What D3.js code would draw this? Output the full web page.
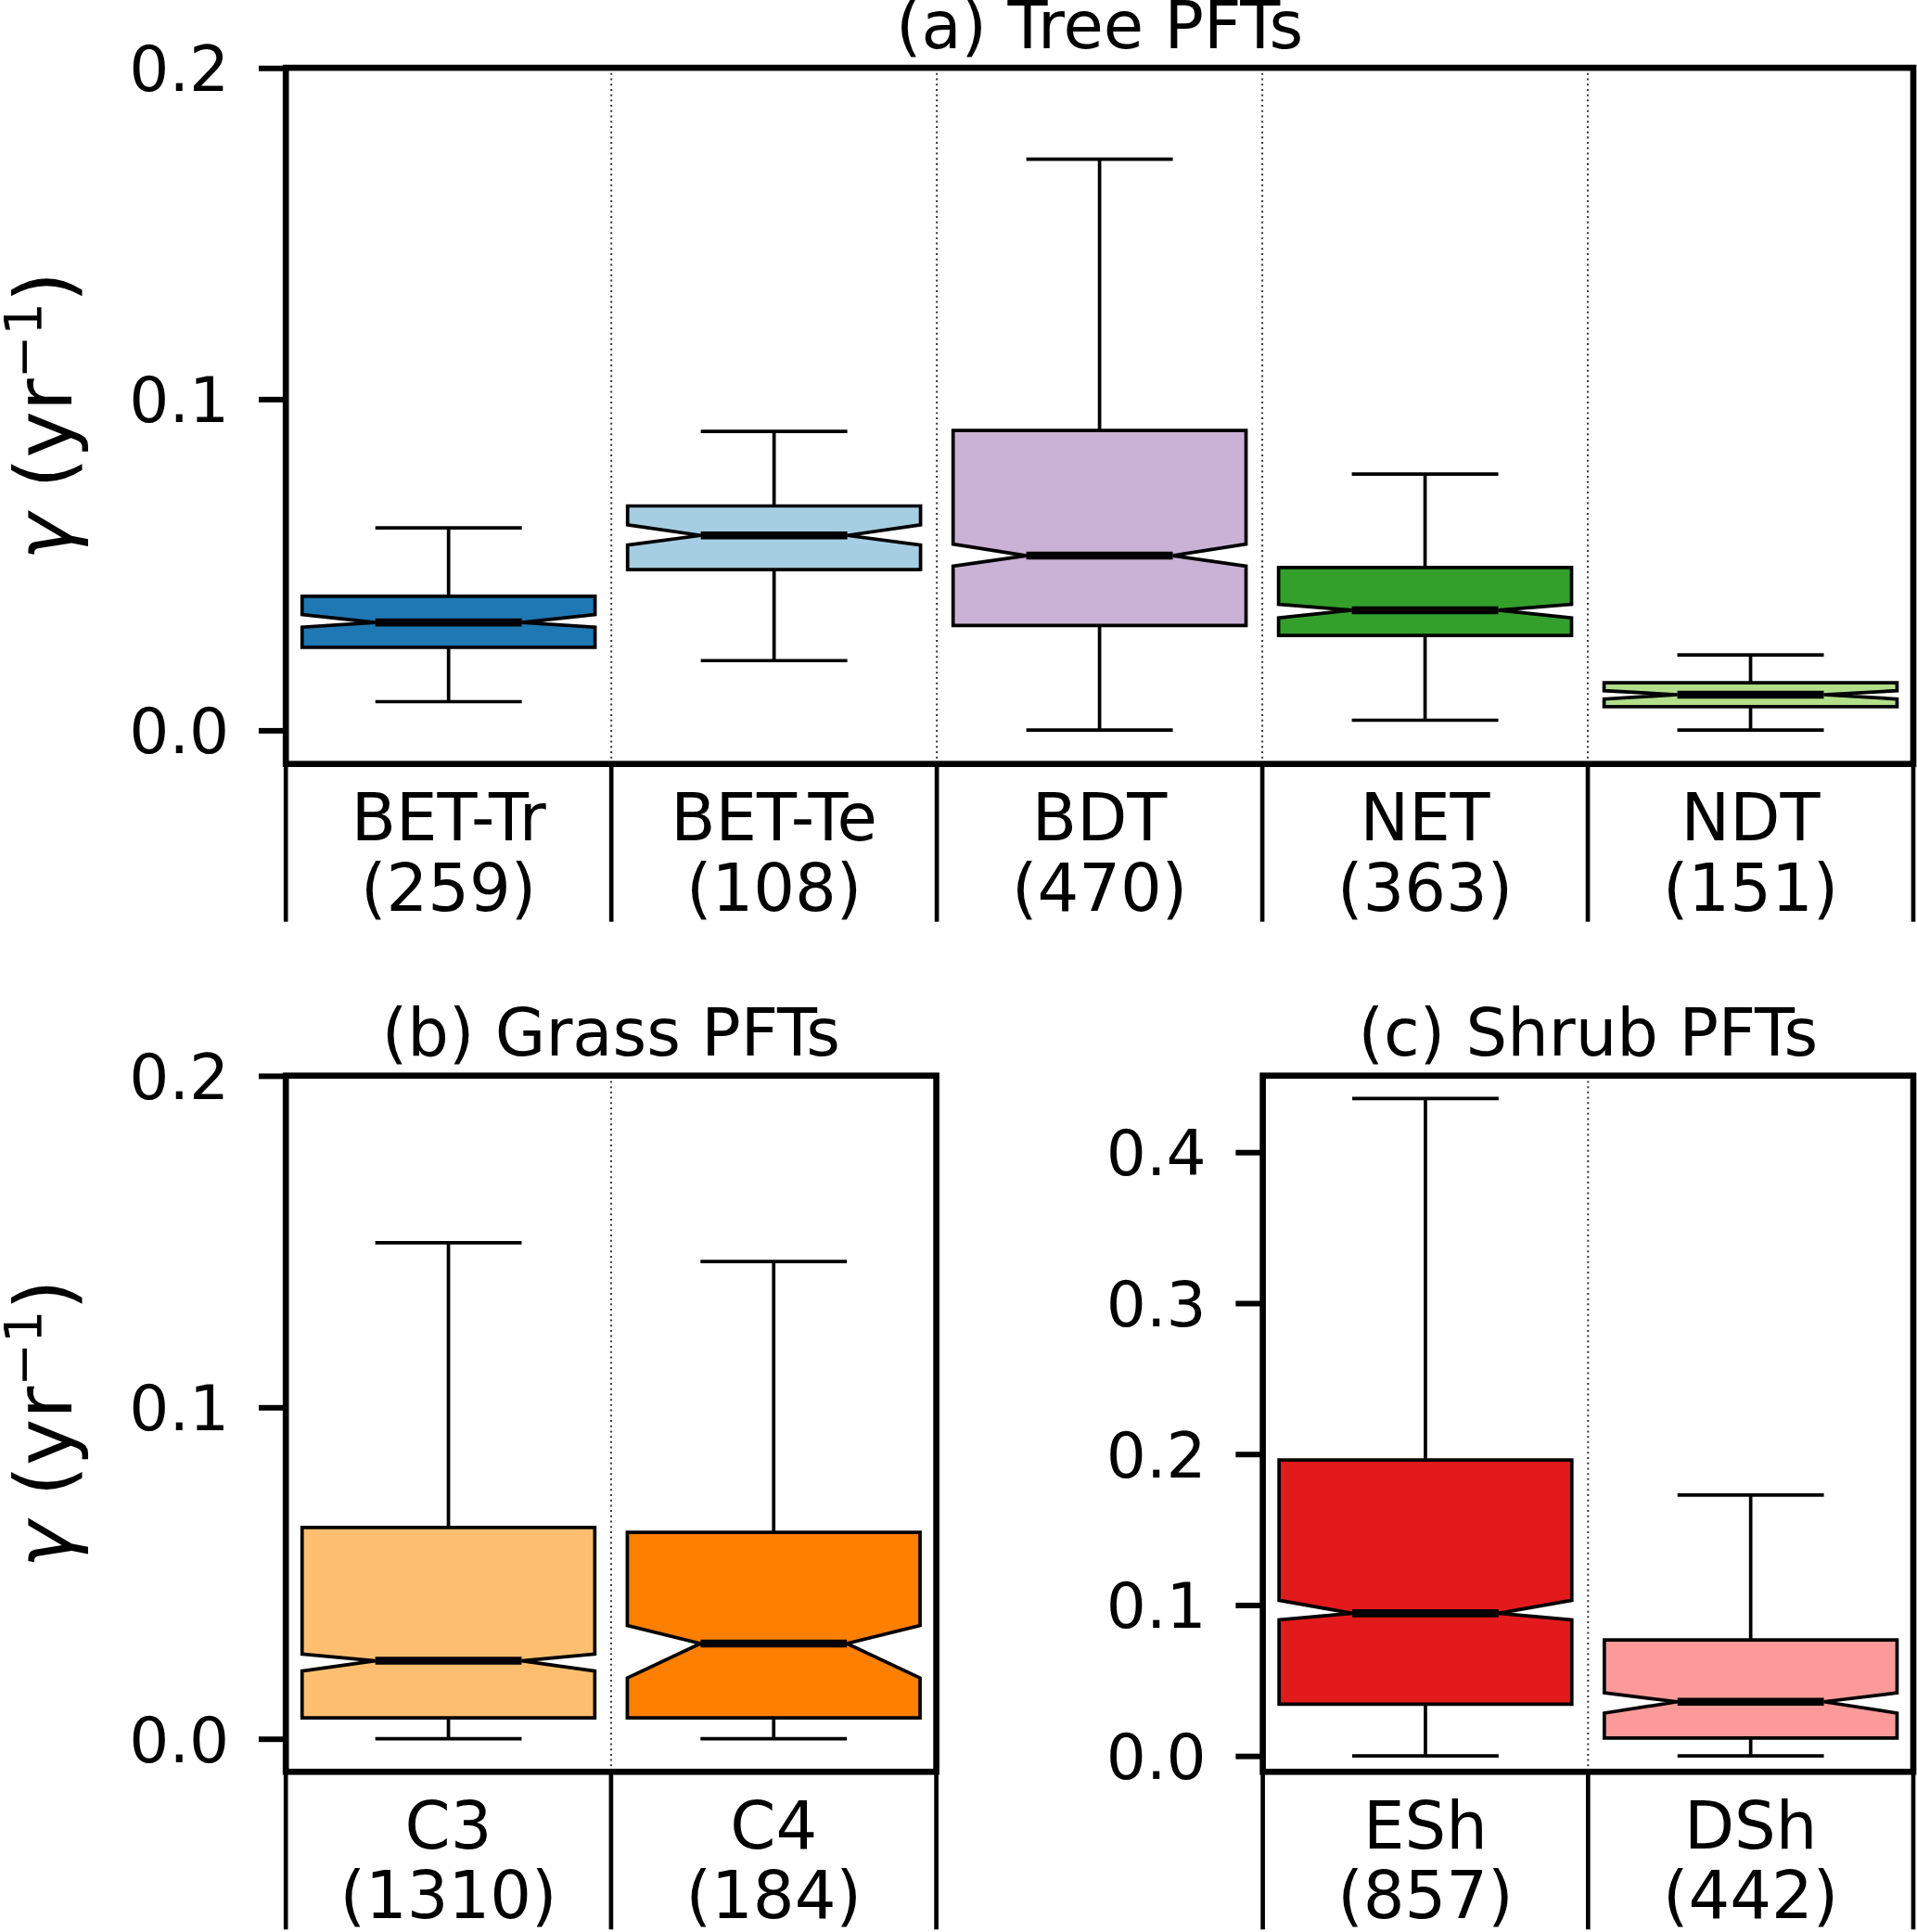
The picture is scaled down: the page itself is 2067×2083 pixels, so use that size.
<!DOCTYPE html>
<html>
<head>
<meta charset="utf-8">
<script src="https://cdn.jsdelivr.net/npm/d3@7"></script>
<style>
  body { margin: 0; background: #fff; }
  svg { display: block; font-family: "DejaVu Sans", sans-serif; }
</style>
</head>
<body>
<div id="chart"></div>
<script>
// box statistics (gamma, yr^-1)
var treeCats = ["BET-Tr", "BET-Te", "BDT", "NET", "NDT"];
var treeN = [259, 108, 470, 363, 151];
var treeColors = ["#1f78b4", "#a6cee3", "#cab2d6", "#33a02c", "#b2df8a"];
var treeWhiskLo = [0.0086, 0.0210, 0.0000, 0.0030, 0.0000];
var treeQ1 = [0.0250, 0.0485, 0.0316, 0.0286, 0.0071];
var treeNotchLo = [0.0311, 0.0559, 0.0495, 0.0339, 0.0094];
var treeMed = [0.0325, 0.0588, 0.0527, 0.0362, 0.0107];
var treeNotchHi = [0.0349, 0.0620, 0.0562, 0.0380, 0.0119];
var treeQ3 = [0.0404, 0.0677, 0.0905, 0.0491, 0.0143];
var treeWhiskHi = [0.0611, 0.0902, 0.1724, 0.0773, 0.0227];

var grassCats = ["C3", "C4"];
var grassN = [1310, 184];
var grassColors = ["#fdbf6f", "#ff7f00"];
var grassWhiskLo = [0.0000, 0.0000];
var grassQ1 = [0.0063, 0.0063];
var grassNotchLo = [0.0204, 0.0183];
var grassMed = [0.0235, 0.0287];
var grassNotchHi = [0.0255, 0.0341];
var grassQ3 = [0.0637, 0.0622];
var grassWhiskHi = [0.1496, 0.1439];

var shrubCats = ["ESh", "DSh"];
var shrubN = [857, 442];
var shrubColors = ["#e31a1c", "#fb9a99"];
var shrubWhiskLo = [0.0000, 0.0000];
var shrubQ1 = [0.0342, 0.0118];
var shrubNotchLo = [0.0901, 0.0283];
var shrubMed = [0.0944, 0.0358];
var shrubNotchHi = [0.1030, 0.0417];
var shrubQ3 = [0.1959, 0.0767];
var shrubWhiskHi = [0.4354, 0.1727];

var ticks02 = [0, 0.1, 0.2];
var ticks04 = [0, 0.1, 0.2, 0.3, 0.4];

var W = 1556, H = 1568;
var svg = d3.select("#chart").append("svg")
  .attr("width", 2067).attr("height", 2083)
  .attr("viewBox", "0 0 " + W + " " + H);

var FS = 51;   // tick labels
var LS = 53;   // category labels and titles

function panel(p) {
  var g = svg.append("g");
  var x = d3.scaleBand().domain(p.cats).range([p.left, p.right]).padding(0);
  var y = d3.scaleLinear().domain(p.ylim).range([p.bottom, p.top]);
  var bw = x.bandwidth();
  var w = bw * 0.9;

  var rows = p.cats.map(function(c, i) {
    return {cat: c, n: p.n[i], color: p.colors[i], lo: p.lo[i], q1: p.q1[i], nlo: p.nlo[i],
            med: p.med[i], nhi: p.nhi[i], q3: p.q3[i], hi: p.hi[i]};
  });

  // dotted separators between categories
  g.selectAll(".sep").data(p.cats.slice(1)).enter().append("line")
    .attr("x1", function(d) { return x(d); }).attr("x2", function(d) { return x(d); })
    .attr("y1", p.top).attr("y2", p.bottom)
    .attr("stroke", "#333").attr("stroke-width", 1.5).attr("stroke-dasharray", "1.5,2.8");

  var box = g.selectAll(".box").data(rows).enter().append("g");
  var cx = function(d) { return x(d.cat) + bw / 2; };

  // whiskers
  box.append("line").attr("x1", cx).attr("x2", cx)
    .attr("y1", function(d) { return y(d.q3); }).attr("y2", function(d) { return y(d.hi); })
    .attr("stroke", "#000").attr("stroke-width", 2.8);
  box.append("line").attr("x1", cx).attr("x2", cx)
    .attr("y1", function(d) { return y(d.q1); }).attr("y2", function(d) { return y(d.lo); })
    .attr("stroke", "#000").attr("stroke-width", 2.8);
  // caps
  ["hi", "lo"].forEach(function(k) {
    box.append("line")
      .attr("x1", function(d) { return cx(d) - w / 4; }).attr("x2", function(d) { return cx(d) + w / 4; })
      .attr("y1", function(d) { return y(d[k]); }).attr("y2", function(d) { return y(d[k]); })
      .attr("stroke", "#000").attr("stroke-width", 2.8);
  });

  // notched boxes
  box.append("path")
    .attr("d", function(d) {
      var l = cx(d) - w / 2, r = cx(d) + w / 2, il = cx(d) - w / 4, ir = cx(d) + w / 4;
      var pts = [[l, y(d.q1)], [l, y(d.nlo)], [il, y(d.med)], [l, y(d.nhi)], [l, y(d.q3)],
                 [r, y(d.q3)], [r, y(d.nhi)], [ir, y(d.med)], [r, y(d.nlo)], [r, y(d.q1)]];
      return "M" + pts.join("L") + "Z";
    })
    .attr("fill", function(d) { return d.color; })
    .attr("stroke", "#000").attr("stroke-width", 2.8).attr("stroke-linejoin", "miter");

  // medians
  box.append("line")
    .attr("x1", function(d) { return cx(d) - w / 4; }).attr("x2", function(d) { return cx(d) + w / 4; })
    .attr("y1", function(d) { return y(d.med); }).attr("y2", function(d) { return y(d.med); })
    .attr("stroke", "#000").attr("stroke-width", 6.5);

  // y axis
  var ya = g.append("g").attr("transform", "translate(" + p.left + ",0)")
    .call(d3.axisLeft(y).tickValues(p.ticks).tickFormat(d3.format(".1f")).tickSize(22).tickPadding(24));
  ya.select(".domain").remove();
  ya.selectAll(".tick line").attr("stroke-width", 4.5);
  ya.selectAll(".tick text").attr("font-size", FS).attr("font-family", "DejaVu Sans").attr("fill", "#000")
    .attr("dy", "0.36em");

  // category boundaries below the axes
  var bounds = p.cats.map(function(c) { return x(c); }).concat([p.right]);
  g.selectAll(".bnd").data(bounds).enter().append("line")
    .attr("x1", function(d) { return d; }).attr("x2", function(d) { return d; })
    .attr("y1", p.bottom).attr("y2", p.bottom + 128)
    .attr("stroke", "#000").attr("stroke-width", 3.5);

  // category labels
  var lab = g.selectAll(".lab").data(rows).enter().append("text")
    .attr("text-anchor", "middle").attr("font-size", LS).attr("fill", "#000");
  lab.append("tspan").attr("x", cx).attr("y", p.bottom + 62).text(function(d) { return d.cat; });
  lab.append("tspan").attr("x", cx).attr("y", p.bottom + 119).text(function(d) { return "(" + d.n + ")"; });

  // frame
  g.append("rect").attr("x", p.left).attr("y", p.top)
    .attr("width", p.right - p.left).attr("height", p.bottom - p.top)
    .attr("fill", "none").attr("stroke", "#000").attr("stroke-width", 5);

  // title
  g.append("text").attr("x", (p.left + p.right) / 2).attr("y", p.top - 16)
    .attr("text-anchor", "middle").attr("font-size", LS).attr("fill", "#000").text(p.title);

  if (p.ylabel) {
    var t = g.append("text")
      .attr("transform", "translate(58," + ((p.top + p.bottom) / 2) + ") rotate(-90)")
      .attr("text-anchor", "middle").attr("font-size", 64).attr("fill", "#000");
    t.append("tspan").attr("font-style", "italic").text("γ");
    t.append("tspan").text(" (yr");
    t.append("tspan").attr("font-size", 42).attr("dy", -25).text("−1");
    t.append("tspan").attr("dy", 25).text(")");
  }
}

panel({title: "(a) Tree PFTs", cats: treeCats, n: treeN, colors: treeColors,
  lo: treeWhiskLo, q1: treeQ1, nlo: treeNotchLo, med: treeMed, nhi: treeNotchHi, q3: treeQ3, hi: treeWhiskHi,
  left: 232, right: 1553, top: 55, bottom: 620, ylim: [-0.0102, 0.2], ticks: ticks02, ylabel: true});

panel({title: "(b) Grass PFTs", cats: grassCats, n: grassN, colors: grassColors,
  lo: grassWhiskLo, q1: grassQ1, nlo: grassNotchLo, med: grassMed, nhi: grassNotchHi, q3: grassQ3, hi: grassWhiskHi,
  left: 232, right: 760, top: 873, bottom: 1438, ylim: [-0.0100, 0.2], ticks: ticks02, ylabel: true});

panel({title: "(c) Shrub PFTs", cats: shrubCats, n: shrubN, colors: shrubColors,
  lo: shrubWhiskLo, q1: shrubQ1, nlo: shrubNotchLo, med: shrubMed, nhi: shrubNotchHi, q3: shrubQ3, hi: shrubWhiskHi,
  left: 1025, right: 1553, top: 873, bottom: 1438, ylim: [-0.0106, 0.4506], ticks: ticks04, ylabel: false});
</script>
</body>
</html>
